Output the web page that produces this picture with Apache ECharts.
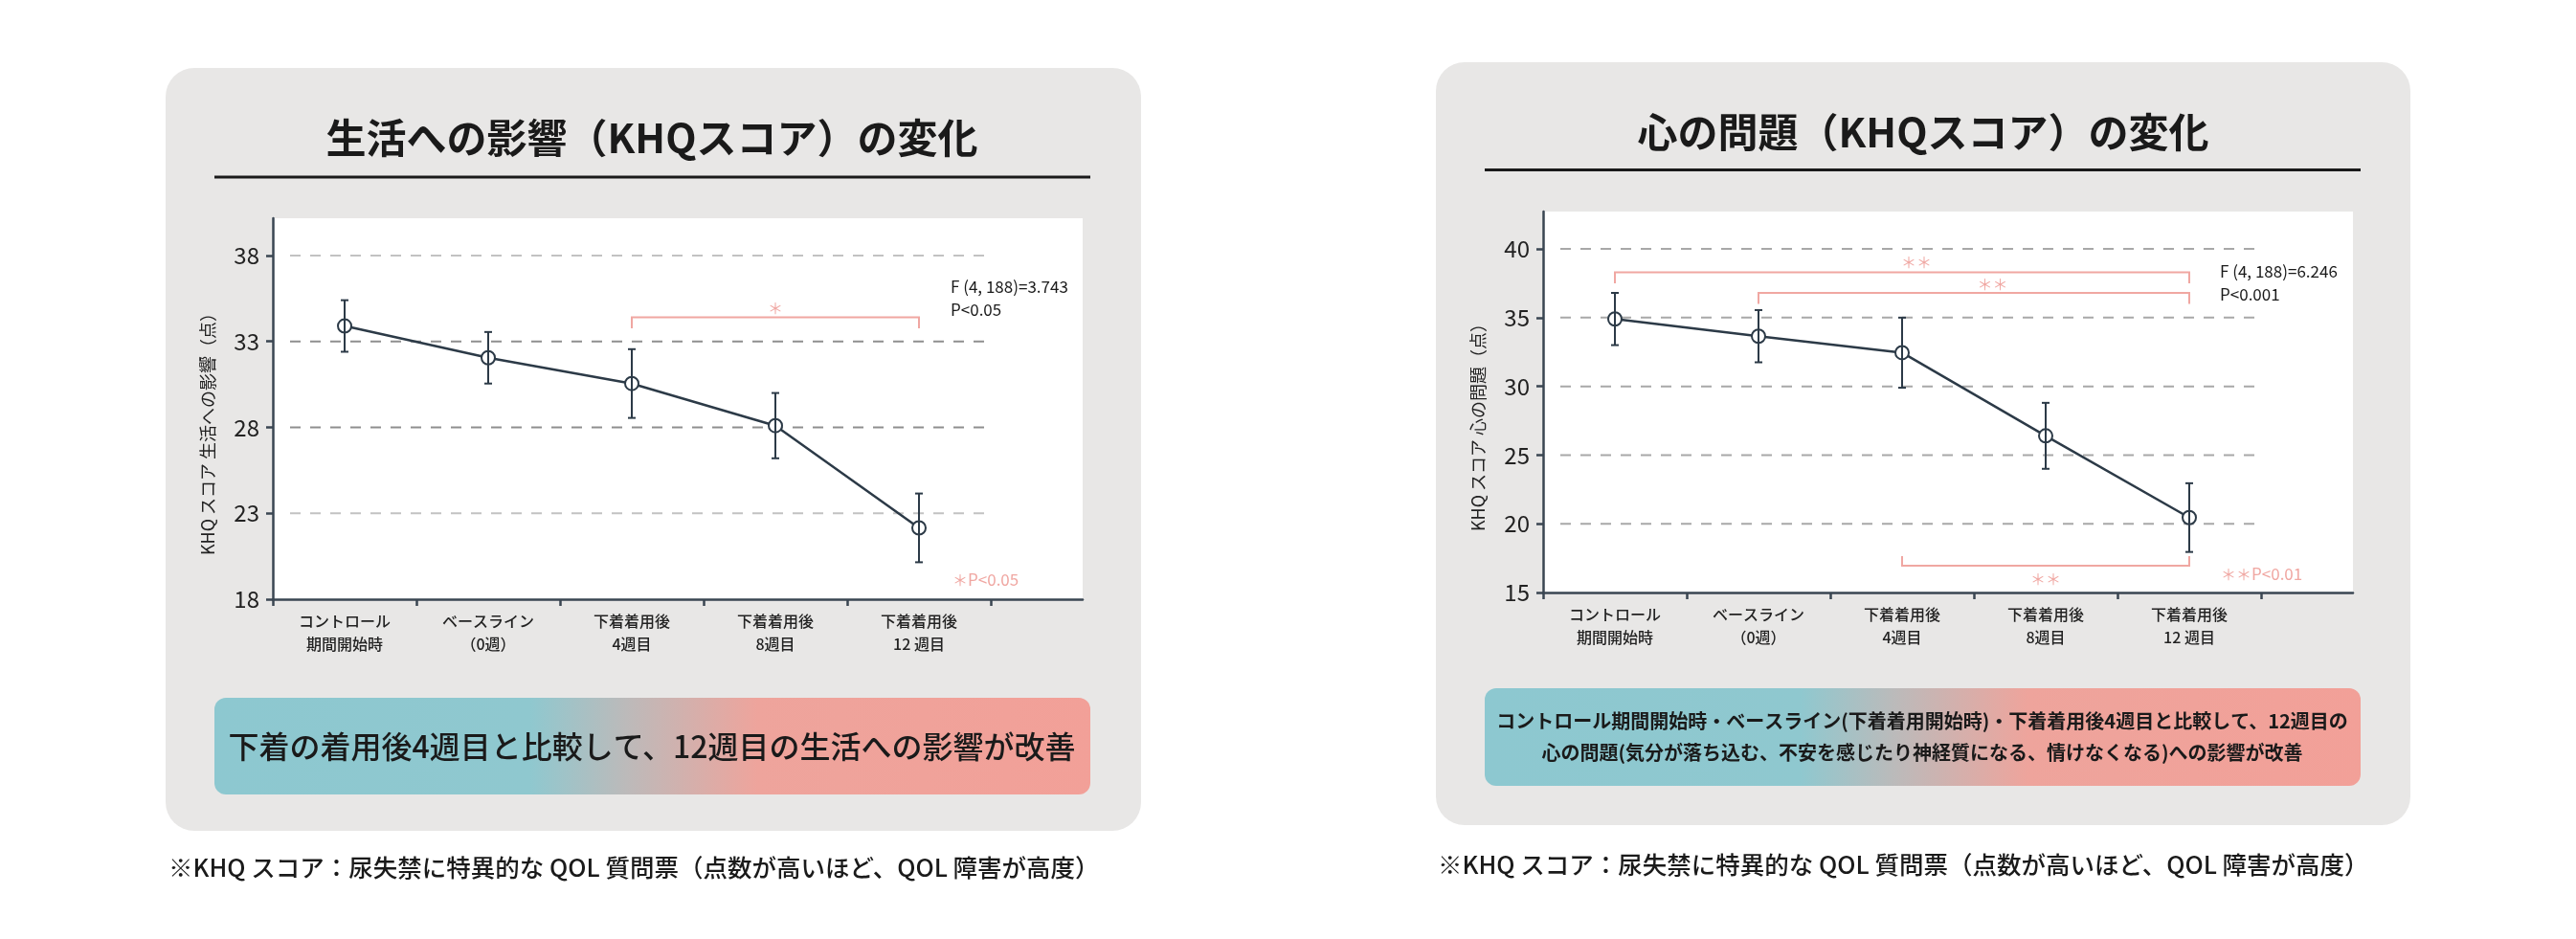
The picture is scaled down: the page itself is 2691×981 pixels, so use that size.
<!DOCTYPE html>
<html><head><meta charset="utf-8">
<script src="https://cdn.jsdelivr.net/npm/echarts@6/dist/echarts.min.js"></script>
<style>html,body{margin:0;padding:0;background:#fff;}#c{width:2691px;height:981px;}</style>
</head><body><div id="c"></div>
<script>
// ---------- data ----------
const categories = ['コントロール\n期間開始時', 'ベースライン\n（0週）', '下着着用後\n4週目', '下着着用後\n8週目', '下着着用後\n12 週目'];

const lifeMean = [33.9, 32.05, 30.55, 28.1, 22.15];
const lifeErr  = [1.5, 1.5, 2.0, 1.9, 2.0];
const lifeTicks = [18, 23, 28, 33, 38];
// [fromIndex, toIndex, barValue, tipValue, starX, starValue, starCount]
const lifeBrackets = [[2, 4, 34.4, 33.77, 3.5, 34.93, 1]];

const mindMean = [34.9, 33.65, 32.45, 26.4, 20.45];
const mindErr  = [1.9, 1.9, 2.55, 2.4, 2.5];
const mindTicks = [15, 20, 25, 30, 35, 40];
const mindBrackets = [
  [0, 4, 38.3, 37.5, 2.6, 39.0, 2],
  [1, 4, 36.8, 36.0, 3.13, 37.4, 2],
  [2, 4, 16.95, 17.65, 3.5, 15.98, 2]
];

const lifeTitle = '生活への影響（KHQスコア）の変化';
const mindTitle = '心の問題（KHQスコア）の変化';
const lifeAxisName = 'KHQ スコア 生活への影響（点）';
const mindAxisName = 'KHQ スコア 心の問題（点）';
const lifeStats = ['F (4, 188)=3.743', 'P<0.05'];
const mindStats = ['F (4, 188)=6.246', 'P<0.001'];
const lifeSig = ['＊', 'P<0.05'];
const mindSig = ['＊＊', 'P<0.01'];
const lifeSummary = '下着の着用後4週目と比較して、12週目の生活への影響が改善';
const mindSummary = 'コントロール期間開始時・ベースライン(下着着用開始時)・下着着用後4週目と比較して、12週目の\n心の問題(気分が落ち込む、不安を感じたり神経質になる、情けなくなる)への影響が改善';
const footnote = '※KHQ スコア：尿失禁に特異的な QOL 質問票（点数が高いほど、QOL 障害が高度）';

// ---------- styles ----------
const FONT = '"Noto Sans CJK JP", "Noto Sans", sans-serif';
const DARK = '#2c3a47';
const AXIS = '#3a4652';
const PINK = '#f0a7a2';
const PANEL = '#e8e7e6';
const X_MAX = 5.64;
const lifeGridColors = ['#c2c2c2', '#8f8f8f', '#8f8f8f', '#c2c2c2'];
const mindGridColors = ['#a8a8a8', '#a8a8a8', '#a8a8a8', '#a8a8a8', '#a8a8a8'];

const tickPos = categories.map((c, i) => i).concat([categories.length]);
const labelPos = categories.map((c, i) => i + 0.5);

function xAxisCfg(gi) {
  return {
    type: 'value', gridIndex: gi, min: 0, max: X_MAX,
    axisLine: { show: true, onZero: false, lineStyle: { color: AXIS, width: 2.5 } },
    axisTick: { show: true, customValues: tickPos, length: 7, lineStyle: { color: AXIS, width: 2.5 } },
    axisLabel: { show: true, customValues: labelPos, formatter: v => categories[Math.round(v - 0.5)],
      fontSize: 16, lineHeight: 24, margin: 11, color: '#222', fontFamily: FONT, fontWeight: 500 },
    splitLine: { show: false }
  };
}
function yAxisCfg(gi, min, max, ticks, name) {
  return {
    type: 'value', gridIndex: gi, min, max,
    axisLine: { show: true, onZero: false, lineStyle: { color: AXIS, width: 2.5 } },
    axisTick: { show: true, customValues: ticks, length: 7, lineStyle: { color: AXIS, width: 2.5 } },
    axisLabel: { show: true, customValues: ticks, fontSize: 24, margin: 14, color: '#222', fontFamily: FONT },
    splitLine: { show: false },
    name, nameLocation: 'middle', nameGap: 59, nameRotate: 90,
    nameTextStyle: { fontSize: 18, color: '#222', fontFamily: FONT, padding: [0, 44, 0, 0] }
  };
}

function gridSeries(gi, ticks, colors) {
  return {
    type: 'custom', xAxisIndex: gi, yAxisIndex: gi, z: 1, silent: true,
    data: ticks.slice(1).map((t, i) => [t, i]),
    renderItem: (p, api) => {
      const a = api.coord([0.12, api.value(0)]), b = api.coord([4.98, api.value(0)]);
      return { type: 'line', shape: { x1: a[0], y1: a[1], x2: b[0], y2: b[1] },
        style: { stroke: colors[api.value(1)], lineWidth: 2, lineDash: [11, 10] } };
    }
  };
}
function lineSeries(gi, mean) {
  return {
    type: 'line', xAxisIndex: gi, yAxisIndex: gi, z: 3,
    data: mean.map((m, i) => [i + 0.5, m]),
    symbol: 'circle', symbolSize: 14,
    itemStyle: { color: '#fff', borderColor: DARK, borderWidth: 2 },
    lineStyle: { color: DARK, width: 2.5 }
  };
}
function errSeries(gi, mean, err) {
  return {
    type: 'custom', xAxisIndex: gi, yAxisIndex: gi, z: 4, silent: true,
    data: mean.map((m, i) => [i + 0.5, m - err[i], m + err[i]]),
    renderItem: (p, api) => {
      const x = api.value(0);
      const t = api.coord([x, api.value(2)]), b = api.coord([x, api.value(1)]);
      const st = { stroke: DARK, lineWidth: 2, fill: null };
      return { type: 'group', children: [
        { type: 'line', shape: { x1: t[0], y1: t[1], x2: b[0], y2: b[1] }, style: st },
        { type: 'line', shape: { x1: t[0] - 4, y1: t[1], x2: t[0] + 4, y2: t[1] }, style: st },
        { type: 'line', shape: { x1: b[0] - 4, y1: b[1], x2: b[0] + 4, y2: b[1] }, style: st }
      ] };
    }
  };
}
function bracketSeries(gi, brackets) {
  return {
    type: 'custom', xAxisIndex: gi, yAxisIndex: gi, z: 2, silent: true,
    data: brackets,
    renderItem: (p, api) => {
      const x1 = api.value(0) + 0.5, x2 = api.value(1) + 0.5, yb = api.value(2), yt = api.value(3);
      const pts = [api.coord([x1, yt]), api.coord([x1, yb]), api.coord([x2, yb]), api.coord([x2, yt])];
      const lp = api.coord([api.value(4), api.value(5)]);
      return { type: 'group', children: [
        { type: 'polyline', shape: { points: pts }, style: { stroke: PINK, lineWidth: 2, fill: null } },
        { type: 'text', x: lp[0], y: lp[1], style: { text: '＊'.repeat(api.value(6)), fill: PINK,
          fontSize: 16, fontFamily: FONT, align: 'center', verticalAlign: 'middle' } }
      ] };
    }
  };
}

function txt(x, y, text, size, opts) {
  return Object.assign({ type: 'text', x, y, silent: true, style: Object.assign({
    text, fontSize: size, fontFamily: FONT, fill: '#1a1a1a', align: 'left', verticalAlign: 'middle' }, opts || {}) });
}
const grad = { type: 'linear', x: 0, y: 0, x2: 1, y2: 0, colorStops: [
  { offset: 0, color: '#8dc8d0' }, { offset: 0.36, color: '#8fc8cf' },
  { offset: 0.47, color: '#bcbaba' }, { offset: 0.62, color: '#eea49c' }, { offset: 1, color: '#f2a098' }] };

const graphics = [
  { type: 'rect', z: -10, silent: true, shape: { x: 173, y: 71, width: 1019, height: 797, r: 30 }, style: { fill: PANEL } },
  { type: 'rect', z: -10, silent: true, shape: { x: 1500, y: 65, width: 1018, height: 797, r: 30 }, style: { fill: PANEL } },
  txt(681, 144, lifeTitle, 42, { align: 'center', fontWeight: 'bold' }),
  txt(2009, 138, mindTitle, 42, { align: 'center', fontWeight: 'bold' }),
  { type: 'line', silent: true, shape: { x1: 224, y1: 185, x2: 1139, y2: 185 }, style: { stroke: '#1a1a1a', lineWidth: 3 } },
  { type: 'line', silent: true, shape: { x1: 1551, y1: 177.5, x2: 2466, y2: 177.5 }, style: { stroke: '#1a1a1a', lineWidth: 3 } },
  { type: 'rect', silent: true, shape: { x: 224, y: 729, width: 915, height: 101, r: 12 }, style: { fill: grad } },
  { type: 'rect', silent: true, shape: { x: 1551, y: 719, width: 915, height: 102, r: 12 }, style: { fill: grad } },
  txt(681, 780, lifeSummary, 32, { align: 'center', fontWeight: 500 }),
  txt(2008, 770, mindSummary, 20, { align: 'center', fontWeight: 'bold', lineHeight: 33 }),
  txt(176, 906, footnote, 25.5, { fontWeight: 500 }),
  txt(1502, 903, footnote, 25.5, { fontWeight: 500 }),
  txt(993, 300, lifeStats[0], 17, {}),
  txt(993, 324, lifeStats[1], 17, {}),
  txt(2319, 284, mindStats[0], 17, {}),
  txt(2319, 308, mindStats[1], 17, {}),
  { type: 'text', x: 995, y: 606, silent: true, style: { text: '{s|' + lifeSig[0] + '}{p|' + lifeSig[1] + '}', verticalAlign: 'middle',
      rich: { s: { fontSize: 16, fill: PINK, fontFamily: FONT }, p: { fontSize: 17, fill: PINK, fontFamily: FONT } } } },
  { type: 'text', x: 2320, y: 600, silent: true, style: { text: '{s|' + mindSig[0] + '}{p|' + mindSig[1] + '}', verticalAlign: 'middle',
      rich: { s: { fontSize: 16, fill: PINK, fontFamily: FONT }, p: { fontSize: 17, fill: PINK, fontFamily: FONT } } } }
];

const chart = echarts.init(document.getElementById('c'), null, { renderer: 'canvas' });
chart.setOption({
  animation: false,
  backgroundColor: '#fff',
  textStyle: { fontFamily: FONT },
  grid: [
    { left: 285, top: 228, width: 846, height: 398, show: true, backgroundColor: '#fff', borderWidth: 0 },
    { left: 1612, top: 221, width: 846, height: 398, show: true, backgroundColor: '#fff', borderWidth: 0 }
  ],
  xAxis: [xAxisCfg(0), xAxisCfg(1)],
  yAxis: [yAxisCfg(0, 18, 40.17, lifeTicks, lifeAxisName), yAxisCfg(1, 15, 42.72, mindTicks, mindAxisName)],
  graphic: graphics,
  series: [
    gridSeries(0, lifeTicks, lifeGridColors), bracketSeries(0, lifeBrackets), lineSeries(0, lifeMean), errSeries(0, lifeMean, lifeErr),
    gridSeries(1, mindTicks, mindGridColors), bracketSeries(1, mindBrackets), lineSeries(1, mindMean), errSeries(1, mindMean, mindErr)
  ]
});
</script></body></html>
